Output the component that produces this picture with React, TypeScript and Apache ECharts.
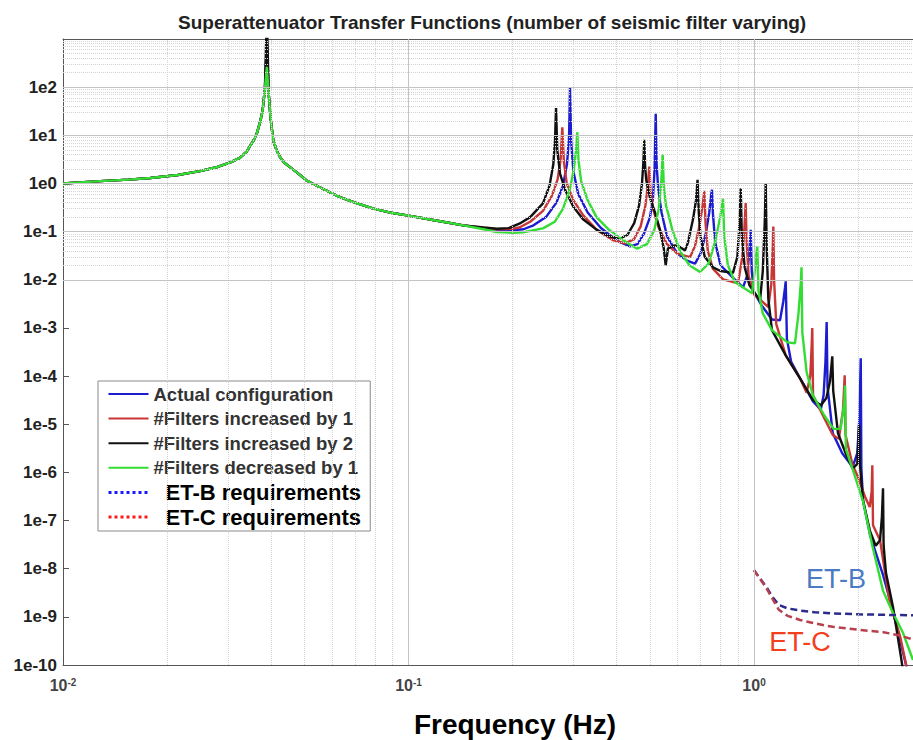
import React, { useEffect, useRef } from 'react';
import * as echarts from 'echarts';

const TITLE = 'Superattenuator Transfer Functions (number of seismic filter varying)';
const X_NAME = 'Frequency (Hz)';
const NAMES = [
  'Actual configuration',
  '#Filters increased by 1',
  '#Filters increased by 2',
  '#Filters decreased by 1',
  'ET-B requirements',
  'ET-C requirements',
];

const X_MIN = 0.01;
const X_MAX = 2.885;
const Y_MIN = 1e-10;
const Y_MAX = 1e3;
const xTickValues = [0.01, 0.1, 1];
const yTickValues = [1e-10, 1e-9, 1e-8, 1e-7, 1e-6, 1e-5, 1e-4, 1e-3, 1e-2, 1e-1, 1, 10, 100];

type P = [number, number];

// shared low-frequency part (all configurations coincide)
const lowRise: P[] = [
  [0.01, 1.0], [0.0128, 1.12], [0.0155, 1.2], [0.0179, 1.3], [0.0215, 1.5], [0.0249, 1.8],
  [0.028, 2.2], [0.0304, 2.7], [0.0325, 3.4], [0.034, 4.6], [0.0356, 7.8], [0.0364, 11],
  [0.0372, 19], [0.0378, 32], [0.0384, 90],
];
const firstPeakF = 0.0389;
const firstPeakBlue = 900;
const firstPeakRed = 900;
const firstPeakBlack = 3000;
const firstPeakGreen = 265;
const lowFall: P[] = [
  [0.0394, 70], [0.0399, 22], [0.0406, 7.8], [0.0415, 4.9], [0.0425, 3.5], [0.0437, 2.7],
  [0.0454, 2.18], [0.048, 1.6], [0.0507, 1.15], [0.057, 0.75], [0.0633, 0.52], [0.07, 0.4],
  [0.0791, 0.3], [0.088, 0.25], [0.099, 0.217], [0.12, 0.17], [0.1441, 0.135],
];

const blueTail: P[] = [
  [0.165, 0.118], [0.18, 0.109], [0.2, 0.107], [0.215, 0.112], [0.23, 0.135], [0.25, 0.2],
  [0.268, 0.4], [0.28, 0.9], [0.2875, 2.5], [0.2915, 9], [0.2934, 100], [0.2955, 8], [0.3, 1.8],
  [0.31, 0.6], [0.33, 0.25], [0.36, 0.12], [0.4, 0.065], [0.4376, 0.0493], [0.46, 0.055],
  [0.48, 0.09], [0.5, 0.2], [0.51, 0.5], [0.5155, 2], [0.5194, 27.9], [0.5225, 2.5], [0.528, 0.8],
  [0.54, 0.25], [0.56, 0.08], [0.6, 0.035], [0.64, 0.025], [0.675, 0.0216], [0.7, 0.035],
  [0.725, 0.09], [0.742, 0.25], [0.752, 0.6], [0.7558, 0.74], [0.76, 0.25], [0.772, 0.06],
  [0.8, 0.02], [0.87, 0.011], [0.9295, 0.00695], [0.955, 0.012], [0.97, 0.04], [0.9781, 0.109],
  [0.985, 0.015], [1.0, 0.0055], [1.05, 0.003], [1.127, 0.0015], [1.1893, 0.00144], [1.215, 0.0035],
  [1.23, 0.007], [1.2353, 0.00927], [1.245, 6e-4], [1.28, 2e-4], [1.359, 9e-5], [1.48, 3e-5],
  [1.56, 2e-5], [1.59, 4e-5], [1.61, 2e-4], [1.6229, 1.32e-3], [1.632, 6e-5], [1.69, 6.5e-6],
  [1.8, 2.5e-6], [1.93, 1.3e-6], [1.99, 2.5e-6], [2.02, 1.5e-5], [2.0366, 2.34e-4], [2.045, 1.2e-6],
  [2.068, 2.65e-7], [2.1666, 4.98e-8], [2.3624, 7.4e-9], [2.4749, 2.23e-9], [2.6464, 3.3e-10],
  [2.754, 1e-10], [2.85, 2e-11],
];

const redTail: P[] = [
  [0.165, 0.12], [0.18, 0.112], [0.2, 0.114], [0.21, 0.123], [0.225, 0.16], [0.245, 0.27],
  [0.26, 0.55], [0.27, 1.2], [0.2755, 3], [0.2787, 14.7], [0.2815, 3], [0.287, 1.0], [0.3, 0.45],
  [0.32, 0.22], [0.35, 0.11], [0.39, 0.067], [0.4232, 0.0569], [0.45, 0.07], [0.47, 0.13],
  [0.485, 0.35], [0.4925, 0.9], [0.4977, 2.25], [0.502, 0.7], [0.51, 0.3], [0.53, 0.12],
  [0.56, 0.055], [0.6, 0.035], [0.653, 0.0296], [0.675, 0.05], [0.695, 0.13], [0.71, 0.35],
  [0.718, 0.7], [0.724, 0.15], [0.735, 0.04], [0.76, 0.017], [0.8134, 0.0102], [0.8989, 0.0084],
  [0.925, 0.03], [0.938, 0.12], [0.946, 0.394], [0.952, 0.06], [0.965, 0.012], [1.0, 0.005],
  [1.1, 0.00272], [1.122, 0.008], [1.132, 0.04], [1.1373, 0.128], [1.143, 0.01], [1.16, 0.0012],
  [1.2353, 2.7e-4], [1.359, 9e-5], [1.42, 4.5e-5], [1.455, 1e-4], [1.468, 4e-4], [1.4744, 1.0e-3],
  [1.482, 4e-5], [1.6, 1.3e-5], [1.6923, 5.9e-6], [1.76, 5e-6], [1.81, 2e-5], [1.83, 1.04e-4],
  [1.84, 6e-6], [1.93, 1.4e-6], [2.0, 8e-7], [2.1, 3e-7], [2.162, 1.9e-7], [2.19, 4e-7],
  [2.2, 1.41e-6], [2.21, 8e-8], [2.316, 3.9e-8], [2.47, 2e-9], [2.6464, 4e-10], [2.8, 6e-11],
];

const blackTail: P[] = [
  [0.165, 0.122], [0.18, 0.115], [0.195, 0.118], [0.21, 0.148], [0.225, 0.2], [0.2449, 0.385],
  [0.256, 0.9], [0.2625, 2.5], [0.2655, 8], [0.2673, 37], [0.2695, 5], [0.2745, 1.6], [0.2843, 0.72],
  [0.3, 0.33], [0.32, 0.18], [0.35, 0.11], [0.38, 0.08], [0.4094, 0.072], [0.43, 0.085],
  [0.45, 0.15], [0.465, 0.35], [0.474, 1.0], [0.4785, 2.8], [0.4813, 8.07], [0.484, 2.2],
  [0.4875, 1.2], [0.5, 0.5], [0.5168, 0.25], [0.5342, 0.11], [0.548, 0.045], [0.5551, 0.0199],
  [0.5637, 0.045], [0.5904, 0.052], [0.6104, 0.048], [0.6315, 0.0407], [0.6442, 0.06],
  [0.6659, 0.18], [0.6795, 0.45], [0.6864, 1.19], [0.692, 0.25], [0.7, 0.08], [0.72, 0.03],
  [0.7607, 0.0181], [0.8, 0.0152], [0.8693, 0.0139], [0.895, 0.03], [0.908, 0.15], [0.9152, 0.798],
  [0.922, 0.08], [0.94, 0.018], [0.97, 0.0077], [1.0409, 0.0037], [1.06, 0.015], [1.074, 0.15],
  [1.0811, 0.986], [1.088, 0.05], [1.1, 0.004], [1.127, 9e-4], [1.2353, 2.7e-4], [1.359, 9e-5],
  [1.48, 3.2e-5], [1.5624, 2.48e-5], [1.62, 3.5e-5], [1.66, 8e-5], [1.6846, 2.58e-4], [1.695, 5e-5],
  [1.75, 6.5e-6], [1.85, 2.3e-6], [1.93, 1.2e-6], [1.99, 1.5e-6], [2.005, 4e-6], [2.0137, 9.5e-6],
  [2.025, 1.5e-6], [2.068, 2.6e-7], [2.1666, 6e-8], [2.25, 3e-8], [2.316, 3.9e-8], [2.345, 1.2e-7],
  [2.3624, 4.7e-7], [2.372, 3e-8], [2.41, 8.1e-9], [2.525, 1.6e-9], [2.663, 1.47e-10], [2.75, 3e-11],
];

const greenTail: P[] = [
  [0.165, 0.112], [0.18, 0.098], [0.2, 0.095], [0.215, 0.097], [0.2449, 0.117], [0.265, 0.16],
  [0.28, 0.3], [0.293, 0.75], [0.301, 2], [0.3055, 5], [0.308, 11.6], [0.3105, 3], [0.316, 1.1],
  [0.33, 0.45], [0.35, 0.2], [0.38, 0.11], [0.42, 0.065], [0.4585, 0.0442], [0.49, 0.055],
  [0.515, 0.11], [0.53, 0.3], [0.539, 1.1], [0.5441, 4.0], [0.548, 0.9], [0.556, 0.35],
  [0.566, 0.22], [0.58, 0.11], [0.61, 0.04], [0.65, 0.02], [0.6978, 0.0145], [0.74, 0.022],
  [0.775, 0.07], [0.8, 0.22], [0.8134, 0.482], [0.82, 0.08], [0.84, 0.02], [0.88, 0.009],
  [0.9867, 0.00523], [1.005, 0.015], [1.016, 0.035], [1.0221, 0.0493], [1.03, 0.006], [1.06, 0.002],
  [1.127, 9e-4], [1.25, 5e-4], [1.3141, 4.8e-4], [1.345, 0.002], [1.365, 0.008], [1.3723, 0.0181],
  [1.38, 8e-4], [1.42, 1.2e-4], [1.48, 4e-5], [1.6, 1.5e-5], [1.7, 8e-6], [1.78, 8e-6],
  [1.81, 1.8e-5], [1.826, 3e-5], [1.8344, 6.4e-5], [1.845, 3e-6], [1.9346, 1.1e-6], [2.068, 2.5e-7],
  [2.2, 3e-8], [2.3624, 3.5e-9], [2.5, 1.4e-9], [2.7, 4.6e-10], [2.885, 1.27e-10],
];

const etB: P[] = [
  [1.0, 9.3e-9], [1.04, 6.3e-9], [1.085, 4.2e-9], [1.13, 2.6e-9], [1.18, 1.76e-9], [1.25, 1.5e-9],
  [1.36, 1.35e-9], [1.5, 1.25e-9], [1.69, 1.18e-9], [2.0, 1.13e-9], [2.4, 1.1e-9], [2.885, 1.08e-9],
];
const etC: P[] = [
  [1.0, 9.3e-9], [1.04, 6.2e-9], [1.085, 4.0e-9], [1.13, 2.4e-9], [1.18, 1.4e-9], [1.25, 1.05e-9],
  [1.36, 8.6e-10], [1.5, 7.3e-10], [1.69, 6.2e-10], [2.0, 5.4e-10], [2.37, 4.8e-10], [2.6, 4.2e-10],
  [2.885, 3.4e-10],
];

const COLORS = ['#1c1cd0', '#c83636', '#111111', '#33dd33', '#2b2b8c', '#b8404e'];
const FONT = '"Liberation Sans", Arial, Helvetica, sans-serif';

// minor / major grid positions (axis decoration)
const minorMult = [2, 3, 4, 5, 6, 7, 8, 9];
const xDecades = [-2, -1, 0];
const yDecades = [-10, -9, -8, -7, -6, -5, -4, -3, -2, -1, 0, 1, 2];
const xMinorGrid: number[] = [];
xDecades.forEach((d) => minorMult.forEach((m) => { const v = m * Math.pow(10, d); if (v < X_MAX) xMinorGrid.push(v); }));
const yMinorGrid: number[] = [];
yDecades.forEach((d) => minorMult.forEach((m) => yMinorGrid.push(m * Math.pow(10, d))));
const xMajorGrid = [0.1, 1];
const yMajorGrid = yTickValues.filter((v) => v > Y_MIN);

export default function App() {
  const ref = useRef<HTMLDivElement>(null);
  useEffect(() => {
    if (!ref.current) return;
    const chart = echarts.init(ref.current, undefined, { renderer: 'svg' });
    const mk = (first: number, tail: P[]): P[] => [...lowRise, [firstPeakF, first], ...lowFall, ...tail];
    const minorStyle = { color: '#d4d4d4', type: 'dotted' as const, width: 1 };
    const majorStyle = { color: '#c4c4c4', type: 'solid' as const, width: 1 };
    const lineSeries = (name: string, data: P[], color: string, extra: any = {}) => ({
      name,
      type: 'line',
      data,
      symbol: 'none',
      showSymbol: false,
      clip: true,
      z: 3,
      lineStyle: { color, width: 2.4 },
      itemStyle: { color },
      emphasis: { disabled: true },
      ...extra,
    });
    chart.setOption({
      animation: false,
      backgroundColor: '#ffffff',
      title: {
        text: TITLE,
        left: 173,
        top: 8,
        textStyle: { fontSize: 19, fontWeight: 'bold', color: '#222', fontFamily: FONT },
      },
      grid: { left: 63, right: 0, top: 39, bottom: 75, containLabel: false },
      legend: {
        orient: 'vertical',
        left: 98,
        top: 381,
        padding: [2, 6, 3, 9],
        itemWidth: 40,
        itemHeight: 14,
        itemGap: 2.6,
        selectedMode: false,
        backgroundColor: '#ffffff',
        borderColor: '#8a8a8a',
        borderWidth: 1,
        borderRadius: 0,
        itemStyle: { opacity: 0 },
        formatter: (name: string) => (name.indexOf('ET-') === 0 ? `{b|${name}}` : `{a|${name}}{h| }`),
        textStyle: {
          fontFamily: FONT,
          rich: {
            a: { fontSize: 18.5, fontWeight: 'bold', color: '#333', fontFamily: FONT },
            h: { fontSize: 22, fontWeight: 'bold', color: '#333', fontFamily: FONT },
            b: { fontSize: 22, fontWeight: 'bold', color: '#000', fontFamily: FONT, padding: [0, 0, 0, 12] },
          },
        },
        data: [
          { name: NAMES[0] },
          { name: NAMES[1] },
          { name: NAMES[2] },
          { name: NAMES[3] },
          { name: NAMES[4], lineStyle: { color: '#1a1aff', type: 'dotted', width: 3 } },
          { name: NAMES[5], lineStyle: { color: '#ff1a1a', type: 'dotted', width: 3 } },
        ],
      },
      xAxis: [
        {
          type: 'log',
          logBase: 10,
          min: X_MIN,
          max: X_MAX,
          axisLine: { show: true, lineStyle: { color: '#555', width: 1 } },
          axisTick: { show: true, inside: true, length: 6, customValues: xTickValues, lineStyle: { color: '#555' } },
          splitLine: { show: false },
          axisLabel: {
            show: true,
            customValues: xTickValues,
            margin: 12,
            formatter: (v: number) => `{b|10}{s|${Math.round(Math.log10(v))}}`,
            rich: {
              b: { fontSize: 16, fontWeight: 'bold', color: '#444', fontFamily: FONT, verticalAlign: 'bottom' },
              s: { fontSize: 10, fontWeight: 'bold', color: '#444', fontFamily: FONT, verticalAlign: 'top' },
            },
          },
        },
        {
          type: 'log',
          logBase: 10,
          min: X_MIN,
          max: X_MAX,
          position: 'top',
          axisLine: { show: true, lineStyle: { color: '#555', width: 1 } },
          axisTick: { show: false },
          axisLabel: { show: false },
          splitLine: { show: false },
        },
      ],
      yAxis: {
        type: 'log',
        logBase: 10,
        min: Y_MIN,
        max: Y_MAX,
        axisLine: { show: true, lineStyle: { color: '#555', width: 1 } },
        axisTick: { show: true, inside: true, length: 6, customValues: yTickValues, lineStyle: { color: '#555' } },
        splitLine: { show: false },
        axisLabel: {
          show: true,
          customValues: yTickValues,
          margin: 6,
          fontSize: 17,
          fontWeight: 'bold',
          color: '#222',
          fontFamily: FONT,
          formatter: (v: number) => `1e${Math.round(Math.log10(v))}`,
        },
      },
      graphic: [
        {
          type: 'text',
          x: 515,
          y: 724,
          style: { text: X_NAME, fill: '#000', font: `bold 28px ${FONT}`, align: 'center', verticalAlign: 'middle' },
        },
        {
          type: 'text',
          x: 836,
          y: 579,
          z: 10,
          style: { text: 'ET-B', fill: '#4a7bc4', font: `27px ${FONT}`, align: 'center', verticalAlign: 'middle' },
        },
        {
          type: 'text',
          x: 800,
          y: 642,
          z: 10,
          style: { text: 'ET-C', fill: '#f2401c', font: `27px ${FONT}`, align: 'center', verticalAlign: 'middle' },
        },
      ],
      series: [
        {
          name: '__grid',
          type: 'line',
          data: [[X_MIN, Y_MIN]],
          symbol: 'none',
          silent: true,
          z: 1,
          lineStyle: { opacity: 0 },
          markLine: {
            silent: true,
            symbol: ['none', 'none'],
            label: { show: false },
            animation: false,
            data: [
              ...xMinorGrid.map((v) => ({ xAxis: v, lineStyle: minorStyle })),
              ...yMinorGrid.map((v) => ({ yAxis: v, lineStyle: minorStyle })),
              ...xMajorGrid.map((v) => ({ xAxis: v, lineStyle: majorStyle })),
              ...yMajorGrid.map((v) => ({ yAxis: v, lineStyle: majorStyle })),
            ],
          },
        },
        lineSeries(NAMES[0], mk(firstPeakBlue, blueTail), COLORS[0]),
        lineSeries(NAMES[1], mk(firstPeakRed, redTail), COLORS[1]),
        lineSeries(NAMES[2], mk(firstPeakBlack, blackTail), COLORS[2]),
        lineSeries(NAMES[3], mk(firstPeakGreen, greenTail), COLORS[3]),
        lineSeries(NAMES[4], etB, COLORS[4], { lineStyle: { color: COLORS[4], width: 2.5, type: [7, 4] } }),
        lineSeries(NAMES[5], etC, COLORS[5], { lineStyle: { color: COLORS[5], width: 2.5, type: [7, 4] } }),
      ],
    });
    return () => chart.dispose();
  }, []);
  return <div ref={ref} style={{ position: 'fixed', left: 0, top: 0, width: 913, height: 740 }} />;
}
